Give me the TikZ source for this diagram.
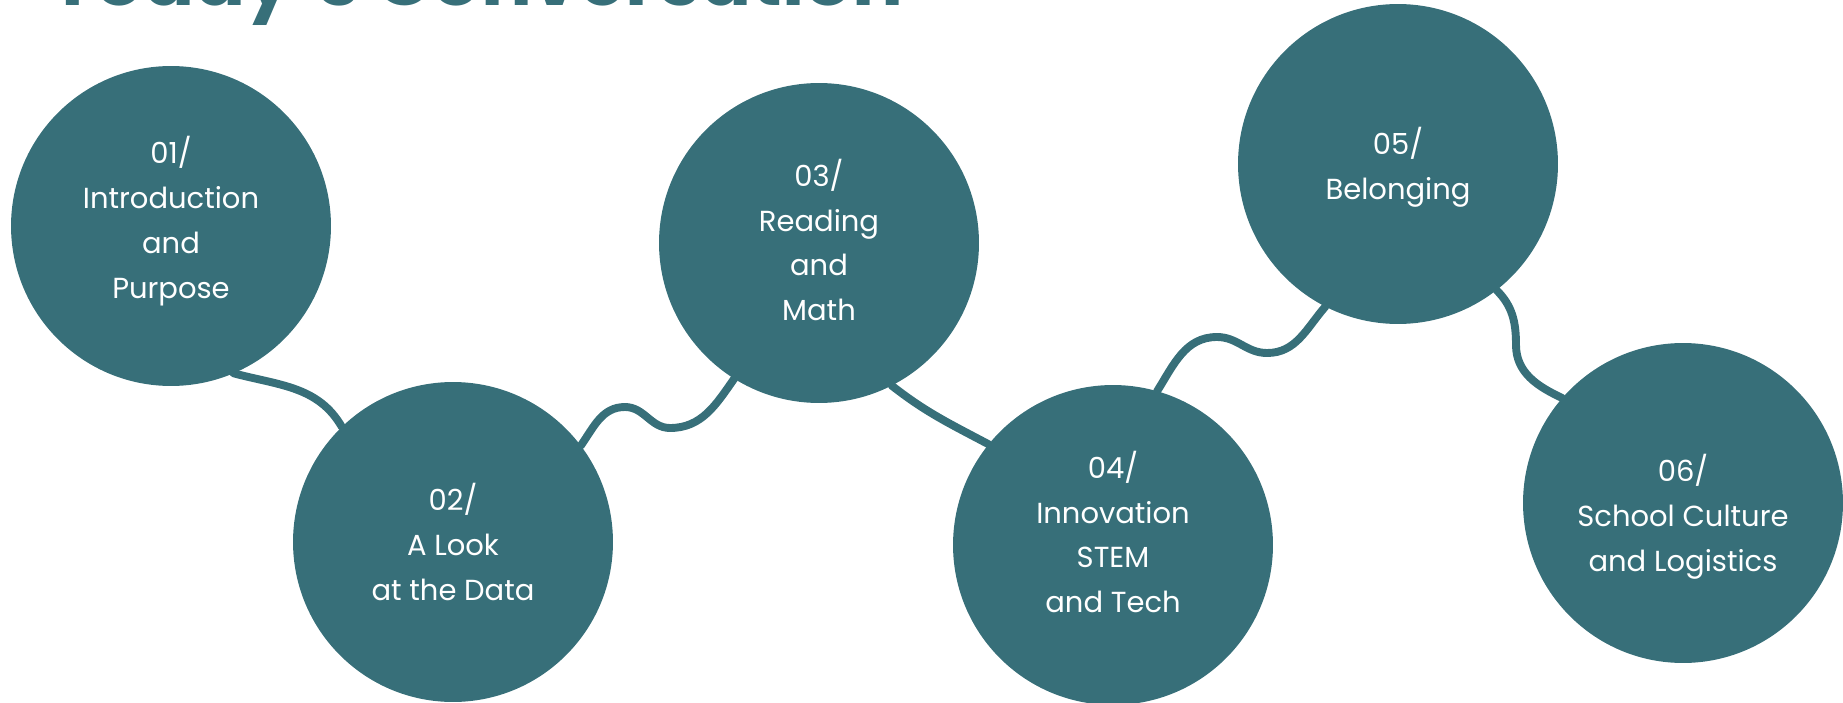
\documentclass[tikz,border=0pt]{standalone}
\usepackage{fontspec}
\setmainfont{Poppins}
\usetikzlibrary{positioning}
\definecolor{topicteal}{HTML}{376F79}
\tikzstyle{topic} = [circle, fill=topicteal, minimum size=6.4cm, inner sep=0pt, outer sep=0pt]
\tikzstyle{topictext} = [text=white, align=center, inner sep=0pt, font=\fontsize{16.5}{25.5}\selectfont]
\tikzstyle{link} = [draw=topicteal, line width=4.5pt, line cap=round]

\begin{document}
\begin{tikzpicture}[x=0.02cm, y=0.02cm]
\useasboundingbox (0,0) rectangle (1843,-703);
\clip (0,0) rectangle (1843,-703);
\node (title) [anchor=base west, inner sep=0pt, text=topicteal, font=\fontsize{43}{43}\selectfont\bfseries] at (50,-6) {Today's Conversation};
% circles
\node (intro) [topic] at (171,-226) {};
\node (data) [topic] at (453,-542) {};
\node (reading) [topic] at (819,-243) {};
\node (stem) [topic] at (1113,-545) {};
\node (belong) [topic] at (1398,-164) {};
\node (culture) [topic] at (1683,-503) {};
% texts
\node (introtext) [topictext] at (171,-221) {01/\\Introduction\\and\\Purpose};
\node (datatext) [topictext] at (453,-542) {02/\\A Look\\at the Data};
\node (readingtext) [topictext] at (819,-240) {03/\\Reading\\and\\Math};
\node (stemtext) [topictext] at (1113,-532) {04/\\Innovation\\STEM\\and Tech};
\node (belongtext) [topictext] at (1398,-167) {05/\\Belonging};
\node (culturetext) [topictext] at (1683,-517) {06/\\School Culture\\and Logistics};
% links
\draw [link] (intro.-67) to[out=-15,in=120] (data.134);
\draw [link] (data.37) to[out=55,in=180] (625,-407) to[out=0,in=180] (670,-428) to[out=0,in=235] (reading.238);
\draw [link] (reading.-63) to[out=-38,in=152] (stem.141);
\draw [link] (stem.74) to[out=58,in=180] (1217,-337) to[out=0,in=180] (1267,-353) to[out=0,in=229] (belong.243);
\draw [link] (belong.-52) to[out=-45,in=90] (1516,-345) to[out=-90,in=155] (culture.139);
\end{tikzpicture}
\end{document}
